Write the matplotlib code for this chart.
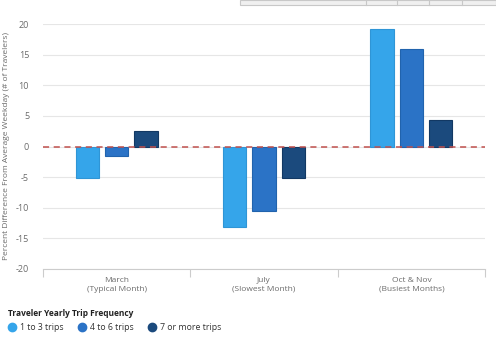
#!/usr/bin/env python3
"""
Traveler trip-frequency chart: percent difference from average weekday,
grouped bars per month type.
"""

import numpy as np
import matplotlib
matplotlib.use("Agg")
import matplotlib.pyplot as plt
from matplotlib.lines import Line2D
from matplotlib.patches import Rectangle

# === Data ===
CATEGORIES = ["March\n(Typical Month)", "July\n(Slowest Month)", "Oct & Nov\n(Busiest Months)"]
SERIES_NAMES = ["1 to 3 trips", "4 to 6 trips", "7 or more trips"]
TRIPS_1_3 = [-5.1, -13.2, 19.2]
TRIPS_4_6 = [-1.6, -10.6, 15.9]
TRIPS_7_PLUS = [2.5, -5.1, 4.3]
Y_TICKS = [-20, -15, -10, -5, 0, 5, 10, 15, 20]

COLORS = ["#35a5ea", "#2b73c6", "#1b4a7d"]
EDGES = ["#2f95d6", "#2163ad", "#123863"]
TEXT_GRAY = "#6b6b6b"

plt.rcParams["font.family"] = ["Open Sans", "DejaVu Sans"]

fig = plt.figure(figsize=(4.96, 3.45), dpi=100)
fig.patch.set_facecolor("white")
W, H = 496, 345
ax = fig.add_axes([43 / W, (H - 269) / H, (485 - 43) / W, (269 - 24) / H])

x = np.arange(len(CATEGORIES))
offsets = [-0.2, 0.0, 0.2]
for vals, off, c, e in zip([TRIPS_1_3, TRIPS_4_6, TRIPS_7_PLUS], offsets, COLORS, EDGES):
    ax.bar(x + off, vals, width=0.158, color=c, edgecolor=e, linewidth=0.8, zorder=3)

ax.axhline(0, color="#c0504d", linestyle=(0, (4, 3)), linewidth=1.1, zorder=4)

ax.set_xlim(-0.5, 2.5)
ax.set_ylim(-20, 20)
ax.set_yticks(Y_TICKS)
ax.set_yticklabels([str(t) for t in Y_TICKS])
ax.grid(axis="y", color="#e6e6e6", linewidth=0.8, zorder=0)
ax.tick_params(axis="y", length=0, labelsize=6.5, labelcolor=TEXT_GRAY, pad=10)

# category boundary ticks, labels placed by hand under each group
ax.set_xticks([-0.5, 0.5, 1.5, 2.5])
ax.set_xticklabels([])
ax.tick_params(axis="x", length=6, color="#cccccc", width=0.8)
for xi, lab in zip(x, CATEGORIES):
    ax.text(xi, -21.3, lab, ha="center", va="top", fontsize=6, color=TEXT_GRAY,
            linespacing=1.35)

for side in ["top", "right", "left"]:
    ax.spines[side].set_visible(False)
ax.spines["bottom"].set_color("#cccccc")
ax.spines["bottom"].set_linewidth(0.8)

ax.set_ylabel("Percent Difference From Average Weekday (# of Travelers)",
              fontsize=6, color=TEXT_GRAY)
ax.yaxis.set_label_coords(-33 / 442, 0.5)

# legend
fig.text(8 / W, 1 - 313 / H, "Traveler Yearly Trip Frequency", fontsize=6,
         fontweight="bold", color="#222222", va="center", ha="left")
handles = [Line2D([], [], marker="o", linestyle="none", markersize=6,
                  markerfacecolor=c, markeredgecolor=c) for c in COLORS]
fig.legend(handles, SERIES_NAMES, loc="center left", bbox_to_anchor=(0, 1 - 328 / H),
           ncol=3, frameon=False, fontsize=6.3, handletextpad=0.4, columnspacing=1.6,
           handlelength=1.0, labelcolor="#333333")

# screenshot toolbar strip at the top right
fig.patches.append(Rectangle((240 / W, 1 - 5 / H), 256 / W, 5 / H, transform=fig.transFigure,
                             facecolor="#f0f0f0", edgecolor="#c8c8c8", linewidth=0.8))
for px in [366, 397, 429, 462]:
    fig.lines.append(Line2D([px / W, px / W], [1 - 5 / H, 1], transform=fig.transFigure,
                            color="#c8c8c8", linewidth=0.8))

fig.savefig("out.png", dpi=100)
